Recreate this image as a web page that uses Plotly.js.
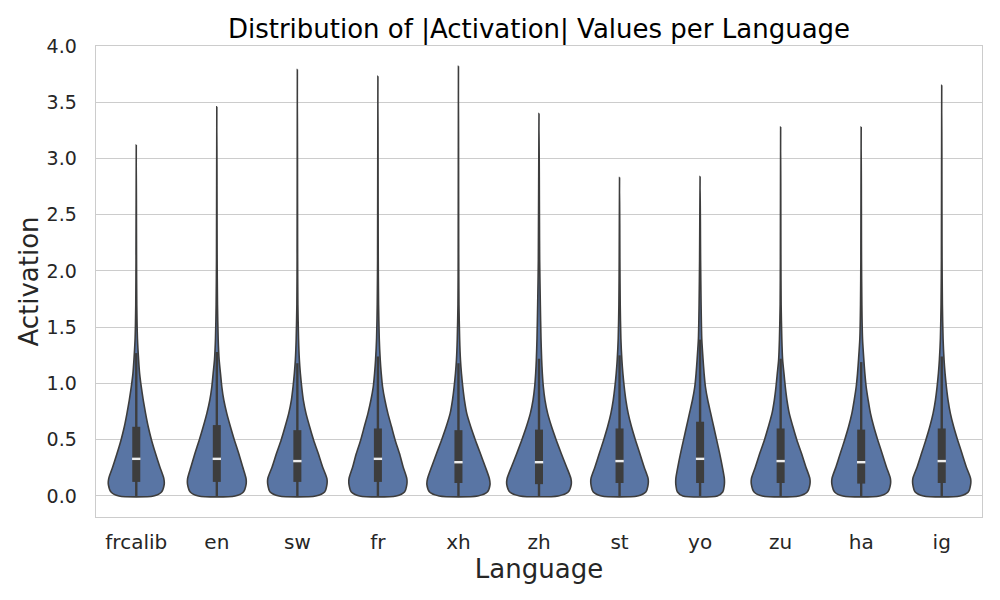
<!DOCTYPE html>
<html>
<head>
<meta charset="utf-8">
<script src="https://cdn.plot.ly/plotly-3.0.1.min.js"></script>
<style>html,body{margin:0;padding:0;background:#fff;}#chart{width:1000px;height:600px;}</style>
</head>
<body>
<div id="chart"></div>
<script>
// ---- data ----
const categories = ['frcalib','en','sw','fr','xh','zh','st','yo','zu','ha','ig'];
const medians     = [0.33, 0.33, 0.31, 0.33, 0.30, 0.30, 0.31, 0.33, 0.31, 0.30, 0.31];
const q1          = [0.125,0.125,0.125,0.125,0.115,0.105,0.115,0.115,0.115,0.110,0.115];
const q3          = [0.615,0.630,0.585,0.600,0.585,0.590,0.600,0.660,0.600,0.590,0.600];
const whiskerLow  = [0, 0, 0, 0, 0, 0, 0, 0, 0, 0, 0];
const whiskerHigh = [1.27, 1.28, 1.18, 1.24, 1.18, 1.22, 1.25, 1.39, 1.22, 1.19, 1.24];
const maxVals     = [3.12, 3.46, 3.79, 3.73, 3.82, 3.40, 2.83, 2.84, 3.28, 3.28, 3.65];

// estimated kernel density (relative units) at these activation levels
const densityLevels = [0, 0.035, 0.1, 0.155, 0.258, 0.377, 0.496, 0.615, 0.734, 0.853, 0.971, 1.09, 1.21, 1.4, 1.7, 2.1];
const dens_frcalib = [52, 76, 84, 83, 71, 58, 46, 36, 28, 21, 15, 10, 7, 3.5, 1.5, 0.8];
const dens_en      = [55, 80, 88, 88, 78, 66, 53, 41, 30, 21, 15, 11, 7, 4, 2, 1];
const dens_sw      = [55, 82, 89, 89, 76, 63, 49, 37, 26, 18, 13, 9, 6, 3.5, 1.5, 0.8];
const dens_fr      = [55, 80, 87, 87, 76, 65, 52, 41, 30, 21, 14, 10, 7, 4, 2, 1];
const dens_xh      = [58, 87, 95, 93, 81, 66, 51, 37, 25, 18, 13, 9, 6, 3.5, 1.5, 0.8];
const dens_zh      = [58, 88, 97, 96, 83, 67, 52, 38, 26, 18, 13, 10, 8, 6, 4, 2];
const dens_st      = [54, 79, 86, 86, 74, 61, 48, 36, 26, 19, 14, 10, 7, 4, 2, 1];
const dens_yo      = [52, 68, 73, 73, 67, 59, 50, 41, 32, 23, 16, 12, 9, 5, 3, 1.5];
const dens_zu      = [55, 80, 88, 88, 76, 63, 49, 37, 26, 19, 14, 10, 6, 3.5, 1.5, 0.8];
const dens_ha      = [55, 80, 88, 88, 76, 63, 50, 38, 28, 21, 15, 11, 8, 4, 2, 1];
const dens_ig      = [55, 80, 87, 87, 74, 61, 48, 36, 26, 19, 14, 10, 7, 4, 2, 1];
const densities = [dens_frcalib, dens_en, dens_sw, dens_fr, dens_xh, dens_zh, dens_st, dens_yo, dens_zu, dens_ha, dens_ig];

// ---- styling ----
const FILL = '#5975a4';
const EDGE = '#3d3d3d';
const VIOLIN_HALF = 0.4;
const FONT = 'DejaVu Sans, sans-serif';
const TXT = '#262626';

const maxD = Math.max(...densities.map(d => Math.max(...d)));
const traces = [];

categories.forEach((cat, i) => {
  const d = densities[i];
  const ys = densityLevels.concat([maxVals[i]]);
  const hw = d.map(v => VIOLIN_HALF * v / maxD).concat([0]);
  const xs = [], yy = [];
  for (let k = 0; k < ys.length; k++) { xs.push(i + hw[k]); yy.push(ys[k]); }
  for (let k = ys.length - 2; k >= 0; k--) { xs.push(i - hw[k]); yy.push(ys[k]); }
  xs.push(xs[0]); yy.push(yy[0]);
  traces.push({
    type: 'scatter', mode: 'lines', x: xs, y: yy,
    fill: 'toself', fillcolor: FILL,
    line: {color: EDGE, width: 1.6, shape: 'spline', smoothing: 0.7},
    hoverinfo: 'skip', showlegend: false
  });
});

// whiskers
const wx = [], wy = [];
categories.forEach((c, i) => { wx.push(i, i, null); wy.push(whiskerLow[i], whiskerHigh[i], null); });
traces.push({type: 'scatter', mode: 'lines', x: wx, y: wy,
  line: {color: EDGE, width: 2.4}, hoverinfo: 'skip', showlegend: false});

// boxes
const bx = [], by = [];
categories.forEach((c, i) => { bx.push(i, i, null); by.push(q1[i], q3[i], null); });
traces.push({type: 'scatter', mode: 'lines', x: bx, y: by,
  line: {color: EDGE, width: 8}, hoverinfo: 'skip', showlegend: false});

// medians
traces.push({type: 'scatter', mode: 'markers', x: categories.map((c, i) => i), y: medians,
  marker: {symbol: 'line-ew-open', size: 6, color: '#eeeeee', line: {color: '#eeeeee', width: 2.4}},
  hoverinfo: 'skip', showlegend: false});

const layout = {
  width: 1000, height: 600,
  margin: {l: 96, r: 18, t: 46, b: 83},
  paper_bgcolor: '#ffffff', plot_bgcolor: '#ffffff',
  font: {family: FONT, color: TXT},
  title: {text: 'Distribution of |Activation| Values per Language',
    font: {family: FONT, size: 26, color: '#000000'},
    x: 0.539, xref: 'container', xanchor: 'center', y: 0.952, yref: 'container', yanchor: 'middle'},
  xaxis: {
    range: [-0.5, 10.5], tickmode: 'array',
    tickvals: categories.map((c, i) => i), ticktext: categories,
    showgrid: false, zeroline: false,
    showline: true, mirror: true, linecolor: '#cccccc', linewidth: 1.4,
    ticks: '', ticklabelstandoff: 7,
    tickfont: {family: FONT, size: 20, color: TXT},
    title: {text: 'Language', font: {family: FONT, size: 26, color: TXT}, standoff: 1}
  },
  yaxis: {
    range: [-0.187, 4.0], tickmode: 'linear', tick0: 0, dtick: 0.5,
    tickformat: '.1f',
    showgrid: true, gridcolor: '#cccccc', gridwidth: 1,
    zeroline: false,
    showline: true, mirror: true, linecolor: '#cccccc', linewidth: 1.4,
    ticks: '', ticklabelstandoff: 14,
    tickfont: {family: FONT, size: 19, color: TXT},
    title: {text: 'Activation', font: {family: FONT, size: 26, color: TXT}, standoff: 0}
  }
};

Plotly.newPlot('chart', traces, layout, {displayModeBar: false, staticPlot: true});
</script>
</body>
</html>
